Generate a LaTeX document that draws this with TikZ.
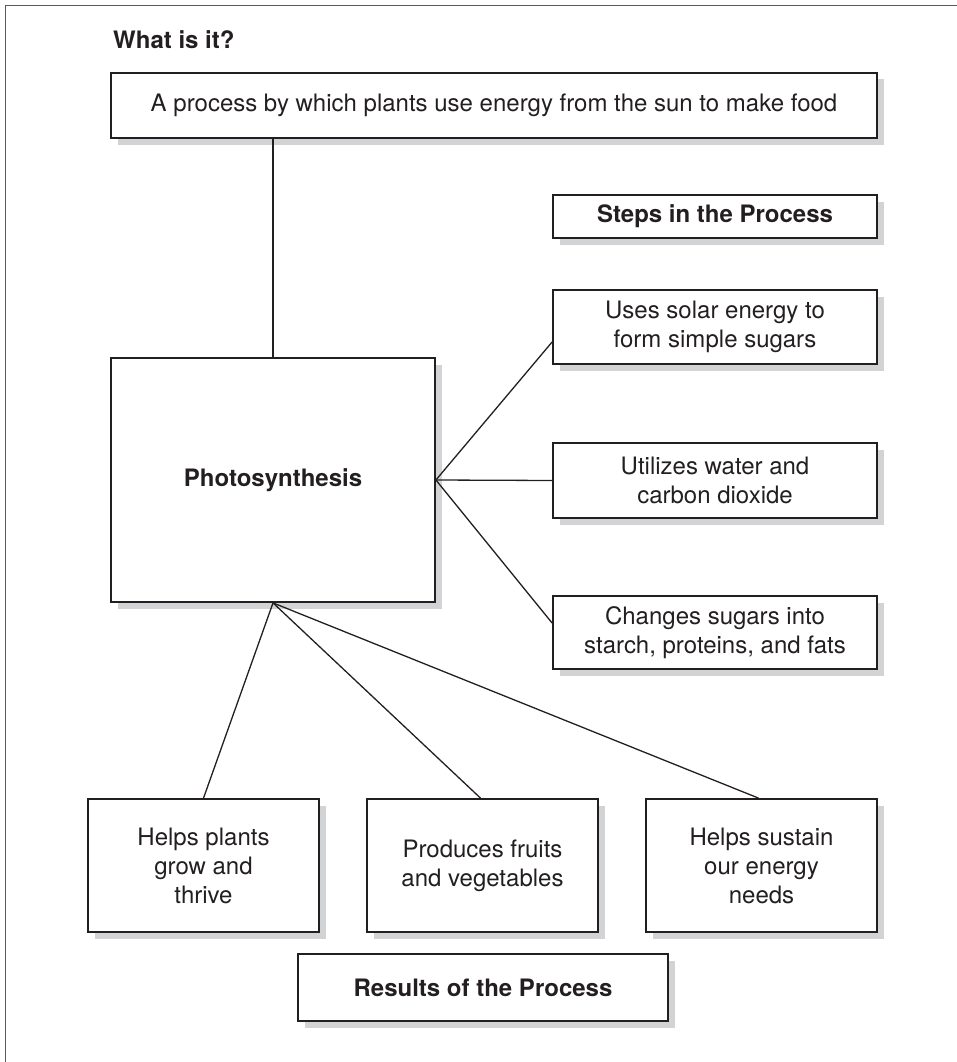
\documentclass[tikz,border=0pt]{standalone}
\usepackage{fontspec}
\setmainfont{TeX Gyre Heros}
\usetikzlibrary{shadows}
\definecolor{ink}{RGB}{35,31,32}
\definecolor{shade}{RGB}{209,211,212}
\definecolor{framegray}{RGB}{90,90,90}
\begin{document}
\begin{tikzpicture}[x=1pt,y=-1pt,
  txt/.style={text=ink, font=\fontsize{24pt}{29pt}\selectfont},
  boldtxt/.style={text=ink, font=\bfseries\fontsize{24pt}{29pt}\selectfont},
  box/.style={draw=ink, line width=1.8pt, fill=white, inner sep=0pt, align=center,
    general shadow={fill=shade, shadow xshift=6.5pt, shadow yshift=-6.5pt}},
  conn/.style={draw=ink, line width=1.3pt},
]
\useasboundingbox (0,0) rectangle (957,1062);
% frame
\coordinate (fbl) at (5,1062);
\coordinate (ftl) at (5,6);
\coordinate (ftr) at (957,6);
\draw[framegray, line width=1pt] (fbl) -- (ftl) -- (ftr);

\node[boldtxt, anchor=base west, inner sep=0pt] (what) at (113,49) {What is it?};
\node[box, txt, minimum width=766pt, minimum height=65pt] (top) at (494,105.5)
  {A process by which plants use energy from the sun to make food};
\node[box, boldtxt, minimum width=324pt, minimum height=43pt] (steps) at (715,216.5)
  {Steps in the Process};
\node[box, txt, minimum width=324pt, minimum height=74pt] (uses) at (715,327)
  {Uses solar energy to\\form simple sugars};
\node[box, txt, minimum width=324pt, minimum height=75pt] (util) at (715,480.5)
  {Utilizes water and\\carbon dioxide};
\node[box, txt, minimum width=324pt, minimum height=73pt] (changes) at (715,632.5)
  {Changes sugars into\\starch, proteins, and fats};
\node[box, boldtxt, minimum width=324pt, minimum height=244pt] (photo) at (273,480)
  {Photosynthesis};
\node[box, txt, minimum width=231pt, minimum height=133pt] (helps) at (203.5,865.5)
  {Helps plants\\grow and\\thrive};
\node[box, txt, minimum width=231pt, minimum height=133pt] (produces) at (482.5,865.5)
  {Produces fruits\\and vegetables};
\node[box, txt, minimum width=231pt, minimum height=133pt] (sustain) at (761.5,865.5)
  {Helps sustain\\our energy\\needs};
\node[box, boldtxt, minimum width=370pt, minimum height=67pt] (results) at (483,987.5)
  {Results of the Process};

% connectors
\draw[conn] (photo.north |- top.south) -- (photo.north);
\draw[conn] (photo.east) -- ([yshift=-15pt]uses.west);
\draw[conn] (photo.east) -- (util.west);
\draw[conn] (photo.east) -- ([yshift=9.5pt]changes.west);
\draw[conn] (photo.south) -- (helps.north);
\draw[conn] (photo.south) -- ([xshift=-2pt]produces.north);
\draw[conn] (photo.south) -- ([xshift=-3pt]sustain.north);
\end{tikzpicture}
\end{document}
